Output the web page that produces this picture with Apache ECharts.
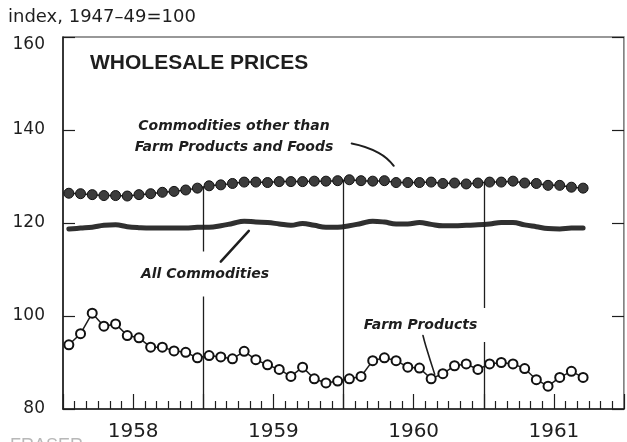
<!DOCTYPE html>
<html>
<head>
<meta charset="utf-8">
<script src="https://cdn.jsdelivr.net/npm/echarts@6/dist/echarts.min.js"></script>
<style>
  html, body { margin: 0; padding: 0; background: #fff; }
  #chart { width: 627px; height: 442px; }
</style>
</head>
<body>
<div id="chart"></div>
<script>
// monthly index, 1947-49 = 100, Jan 1958 - Sep 1961
var years = ['1958', '1959', '1960', '1961'];

var nonFarmFoods = [
    126.4, 126.3, 126.1, 125.9, 125.9, 125.8, 126.1, 126.3, 126.6, 126.8, 127.1, 127.5,
    128.0, 128.2, 128.5, 128.8, 128.8, 128.7, 128.9, 128.9, 128.9, 129.0, 129.0, 129.1,
    129.3, 129.1, 129.0, 129.1, 128.7, 128.7, 128.7, 128.8, 128.5, 128.6, 128.4, 128.6,
    128.8, 128.8, 129.0, 128.6, 128.5, 128.1, 128.1, 127.7, 127.5
];
var allCommodities = [
    118.7, 118.9, 119.1, 119.5, 119.6, 119.2, 119.0, 118.9, 118.9, 118.9, 118.9, 119.1,
    119.1, 119.4, 119.9, 120.4, 120.2, 120.1, 119.8, 119.5, 119.9, 119.5, 119.1, 119.1,
    119.4, 119.9, 120.4, 120.2, 119.8, 119.8, 120.1, 119.7, 119.4, 119.4, 119.5, 119.6,
    119.8, 120.1, 120.1, 119.6, 119.2, 118.8, 118.7, 118.9, 118.9
];
var farmProducts = [
    93.8, 96.2, 100.6, 97.8, 98.3, 95.8, 95.3, 93.3, 93.3, 92.5, 92.2, 91.0,
    91.5, 91.2, 90.8, 92.4, 90.6, 89.5, 88.5, 87.0, 89.0, 86.5, 85.6, 86.0,
    86.5, 87.0, 90.4, 91.0, 90.4, 89.0, 88.8, 86.5, 87.6, 89.3, 89.7, 88.5,
    89.7, 90.0, 89.7, 88.7, 86.3, 84.9, 86.8, 88.1, 86.8
];
var yTicks = [80, 100, 120, 140, 160];

// leader lines for the notes, in [month, index] units
var leaderOther = [[24.7, 137.1], [27.0, 135.1], [28.3, 132.3]];
var leaderAll = [[13.5, 111.7], [15.9, 118.3]];
var leaderFarm = [[30.8, 95.8], [31.05, 93.5], [31.8, 87.5]];

var monthCount = years.length * 12;

// each month sits in the middle of its slot on the time axis
function toPoints(arr) {
    return arr.map(function (v, i) { return [i + 0.5, v]; });
}

// year dividers run from the axis up to the top series
var dividers = [];
for (var k = 1; k < years.length; k++) {
    var yearEnd = k * 12;
    var topVal = (nonFarmFoods[yearEnd - 1] + nonFarmFoods[yearEnd]) / 2;
    dividers.push([{ coord: [yearEnd, yTicks[0]] }, { coord: [yearEnd, topVal] }]);
}

var ink = '#1e1e1e';
var fontMain = '"DejaVu Sans", sans-serif';

function leader(points, width) {
    return {
        type: 'line',
        data: points,
        smooth: true,
        showSymbol: false,
        silent: true,
        lineStyle: { color: ink, width: width, cap: 'round' },
        z: 200
    };
}

var option = {
    animation: false,
    backgroundColor: '#fff',
    grid: {
        left: 63, right: 1, top: 37, bottom: 31,
        show: true, borderColor: '#333', borderWidth: 1.2
    },
    xAxis: {
        type: 'value',
        min: 0, max: monthCount, interval: 6,
        axisLine: { show: true, onZero: false, lineStyle: { color: ink, width: 1.5 } },
        axisTick: { show: true, inside: true, length: 15, lineStyle: { color: ink, width: 1.2 } },
        minorTick: { show: true, splitNumber: 6, length: 8, lineStyle: { color: ink, width: 1.2 } },
        splitLine: { show: false },
        axisLabel: {
            margin: 13,
            fontFamily: fontMain, fontSize: 20, color: ink,
            formatter: function (v) {
                return v % 12 === 6 ? years[(v - 6) / 12] : '';
            }
        }
    },
    yAxis: [
        {
            type: 'value', min: yTicks[0], max: yTicks[yTicks.length - 1], interval: 20,
            axisLine: { show: true, onZero: false, lineStyle: { color: ink, width: 1.5 } },
            axisTick: { show: true, inside: true, length: 12, lineStyle: { color: ink, width: 1.2 } },
            splitLine: { show: false },
            axisLabel: {
                margin: 18, fontFamily: fontMain, fontSize: 17, color: ink,
                formatter: function (v) {
                    // top label sits a little below the frame
                    return v === yTicks[yTicks.length - 1] ? '{t|' + v + '}' : String(v);
                },
                rich: { t: { fontFamily: fontMain, fontSize: 17, color: ink, padding: [16, 0, 0, 0] } }
            }
        },
        {
            type: 'value', min: yTicks[0], max: yTicks[yTicks.length - 1], interval: 20, position: 'right',
            axisLine: { show: true, onZero: false, lineStyle: { color: '#aaa', width: 1 } },
            axisTick: { show: true, inside: true, length: 12, lineStyle: { color: ink, width: 1.2 } },
            splitLine: { show: false },
            axisLabel: { show: false }
        }
    ],
    series: [
        {
            name: 'Commodities other than Farm Products and Foods',
            type: 'line',
            data: toPoints(nonFarmFoods),
            symbol: 'circle',
            symbolSize: 10,
            itemStyle: { color: '#3c3c3c', borderColor: '#111', borderWidth: 1 },
            lineStyle: { color: ink, width: 1.5 },
            markLine: {
                silent: true,
                symbol: ['none', 'none'],
                label: { show: false },
                lineStyle: { color: ink, width: 1.3, type: 'solid' },
                data: dividers
            },
            z: 3
        },
        {
            name: 'All Commodities',
            type: 'line',
            data: toPoints(allCommodities),
            showSymbol: false,
            smooth: 0.4,
            lineStyle: { color: '#303030', width: 5, cap: 'round' },
            z: 3
        },
        {
            name: 'Farm Products',
            type: 'line',
            data: toPoints(farmProducts),
            symbol: 'circle',
            symbolSize: 9,
            itemStyle: { color: '#fff', borderColor: '#111', borderWidth: 2 },
            lineStyle: { color: ink, width: 1.5 },
            z: 3
        },
        leader(leaderOther, 2),
        leader(leaderAll, 2.5),
        leader(leaderFarm, 1.6)
    ],
    graphic: [
        {
            type: 'text', left: 8, top: 8, z: 100,
            style: { text: 'index, 1947\u201349=100', font: '18px "DejaVu Sans", sans-serif', fill: ink }
        },
        {
            type: 'text', left: 90, top: 53, z: 100,
            style: { text: 'WHOLESALE PRICES', font: 'bold 21px "Liberation Sans", sans-serif', fill: ink }
        },
        {
            type: 'text', x: 234, y: 126, z: 100,
            style: {
                text: 'Commodities other than', font: 'italic bold 14px "DejaVu Sans", sans-serif',
                fill: ink, align: 'center', verticalAlign: 'middle'
            }
        },
        {
            type: 'text', x: 234, y: 147, z: 100,
            style: {
                text: 'Farm Products and Foods', font: 'italic bold 14px "DejaVu Sans", sans-serif',
                fill: ink, align: 'center', verticalAlign: 'middle'
            }
        },
        {
            type: 'text', x: 205, y: 274, z: 100,
            style: {
                text: 'All Commodities', font: 'italic bold 14px "DejaVu Sans", sans-serif',
                fill: ink, align: 'center', verticalAlign: 'middle',
                backgroundColor: '#fff', padding: [22, 3, 9, 3]
            }
        },
        {
            type: 'text', x: 424, y: 325, z: 100,
            style: {
                text: 'Farm Products', font: 'italic bold 14px "DejaVu Sans", sans-serif',
                fill: ink, align: 'center', verticalAlign: 'middle',
                backgroundColor: '#fff', padding: [17, 10, 3, 3]
            }
        },
        {
            type: 'text', left: 10, top: 437, z: 100,
            style: { text: 'FRASER', font: '18px "Liberation Sans", sans-serif', fill: '#b8b8b8' }
        }
    ]
};

var myChart = echarts.init(document.getElementById('chart'));
myChart.setOption(option);
</script>
</body>
</html>
